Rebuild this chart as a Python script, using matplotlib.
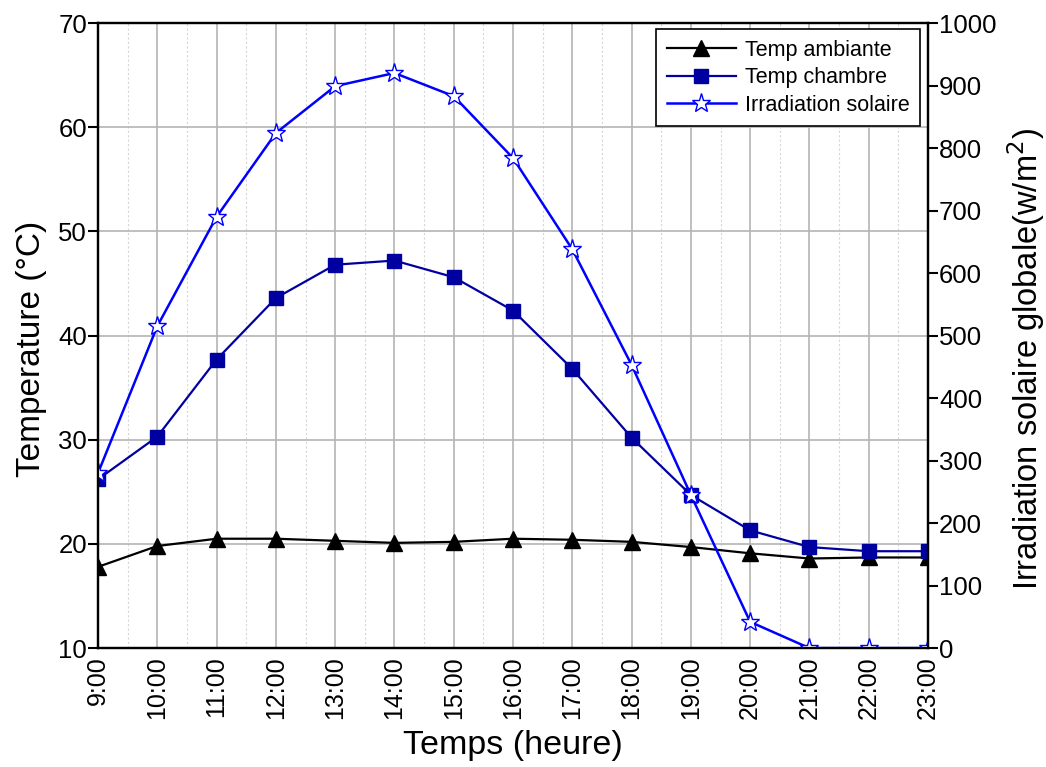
import matplotlib
matplotlib.use("Agg")
import matplotlib.pyplot as plt
from matplotlib.ticker import MultipleLocator

plt.rcParams['font.family'] = ['Liberation Sans', 'DejaVu Sans']

hours = list(range(9, 24))
hour_labels = [f"{h}:00" for h in hours]

temp_ambiante = [17.8, 19.8, 20.5, 20.5, 20.3, 20.1, 20.2, 20.5, 20.4, 20.2,
                 19.7, 19.1, 18.6, 18.7, 18.7]
temp_chambre = [26.2, 30.3, 37.7, 43.6, 46.8, 47.2, 45.6, 42.4, 36.8, 30.2,
                24.7, 21.3, 19.7, 19.3, 19.3]
irradiation = [280, 515, 690, 824, 899, 920, 883, 784, 638, 453,
               245, 42, 0, 0, 0]

fig = plt.figure(figsize=(10.46, 7.67), dpi=100)
ax = fig.add_axes([0.0937, 0.155, 0.7935, 0.815])
ax2 = ax.twinx()

l1, = ax.plot(hours, temp_ambiante, color='black', lw=1.6, marker='^',
              markersize=11, markerfacecolor='black', markeredgecolor='black')
l2, = ax.plot(hours, temp_chambre, color='#0000A0', lw=1.6, marker='s',
              markersize=10, markerfacecolor='#0000A0', markeredgecolor='#0000A0')
l3, = ax2.plot(hours, irradiation, color='#0000FF', lw=1.8, marker='*',
               markersize=14, markerfacecolor='white', markeredgecolor='#0000FF',
               markeredgewidth=1.0)

ax.set_xlim(9, 23)
ax.set_ylim(10, 70)
ax2.set_ylim(0, 1000)

ax.set_xticks(hours)
ax.set_xticklabels(hour_labels, rotation=90)
ax.xaxis.set_minor_locator(MultipleLocator(0.5))
ax.yaxis.set_major_locator(MultipleLocator(10))
ax2.yaxis.set_major_locator(MultipleLocator(100))

ax.grid(True, which='major', axis='both', color='#b4b4b4', lw=1.2)
ax.grid(True, which='minor', axis='x', color='#d6d6d6', lw=0.8, ls=(0, (2, 2)))
ax.set_axisbelow(True)

ax.tick_params(axis='x', which='both', length=0, labelsize=18, pad=6)
ax.tick_params(axis='y', which='major', direction='out', length=7, width=1.5,
               labelsize=18.5, pad=1)
ax2.tick_params(axis='y', which='major', direction='out', length=7, width=1.5,
                labelsize=18.5, pad=1)

for a in (ax, ax2):
    for s in a.spines.values():
        s.set_linewidth(1.6)

ax.set_xlabel('Temps (heure)', fontsize=24.5, labelpad=8)
ax.set_ylabel('Temperature (°C)', fontsize=24)
ax.yaxis.set_label_coords(-0.062, 0.478)
ax2.set_ylabel('Irradiation solaire globale(w/m$^2$)', fontsize=23.5)
ax2.yaxis.set_label_coords(1.093, 0.462)

leg = ax2.legend([l1, l2, l3], ['Temp ambiante', 'Temp chambre', 'Irradiation solaire'],
                 loc='upper right', bbox_to_anchor=(0.993, 0.994), fontsize=15.5,
                 frameon=True, fancybox=False, framealpha=1, edgecolor='black',
                 borderpad=0.5, labelspacing=0.3, handlelength=3.2,
                 handletextpad=0.4, borderaxespad=0.1)
leg.get_frame().set_linewidth(1.2)

fig.savefig('out.png', dpi=100)
